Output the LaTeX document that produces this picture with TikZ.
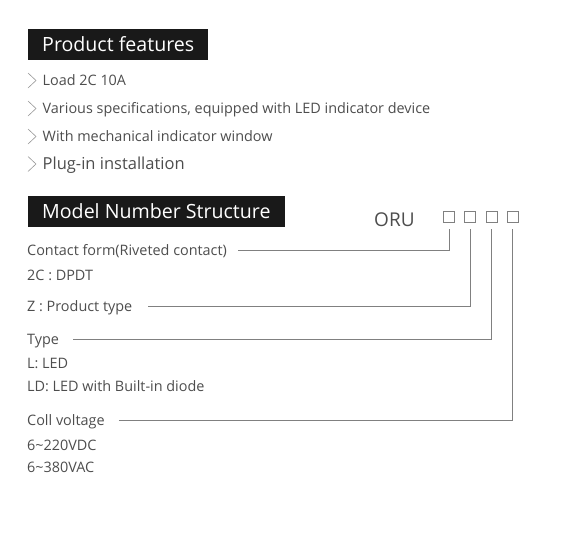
\documentclass[tikz,border=0pt]{standalone}
\usepackage{fontspec}
\setmainfont{Open Sans}
\usetikzlibrary{calc}
\definecolor{ink}{HTML}{4D4D4D}
\definecolor{rulegray}{HTML}{808080}
\tikzset{every node/.style={anchor=west,inner sep=0pt,text=ink,font=\fontsize{14.4}{17}\selectfont,text height=10.3pt,text depth=0pt}}
\tikzset{big/.style={font=\fontsize{16.5}{19}\selectfont,text height=11.7pt}}
\tikzset{head/.style={fill=black!90,text=white,font=\fontsize{19.6}{24}\selectfont,text height=14.2pt,inner xsep=14pt,minimum height=31pt}}
\tikzset{box/.style={draw=rulegray,line width=0.7pt,minimum size=11pt,anchor=center}}
\tikzset{chev/.style={draw=rulegray!80,line width=0.6pt}}
\tikzset{lead/.style={draw=rulegray,line width=0.8pt}}

\begin{document}
\begin{tikzpicture}[x=1pt,y=-1pt]
  \useasboundingbox (0,0) rectangle (585,546);
  % features
  \node[head] (H1) at (28,44.5) {Product features};
  \node (F1) at (42.5,80.5) {Load 2C 10A};
  \node (F2) at (42.5,108.5) {Various specifications, equipped with LED indicator device};
  \node (F3) at (42.5,136.5) {With mechanical indicator window};
  \node[big] (F4) at (42.5,164) {Plug-in installation};
  \foreach \f in {F1,F2,F3,F4}
    \draw[chev] ($(\f.west)+(-14.5,-7.5)$) -- ++(8,7.5) -- ++(-8,7.5);
  % model number
  \node[head] (H2) at (28,211) {Model Number Structure};
  \node[font=\fontsize{19}{23}\selectfont,text height=13.5pt] (ORU) at (374,219.5) {ORU};
  \node[box] (S1) at (449,216.5) {};
  \node[box] (S2) at (470,216.5) {};
  \node[box] (S3) at (491.5,216.5) {};
  \node[box] (S4) at (512.5,216.5) {};
  \node (C1) at (27,250) {Contact form(Riveted contact)};
  \node (C2) at (27,275) {2C : DPDT};
  \node (Z1) at (27,306.2) {Z : Product type};
  \node (T1) at (27,339.7) {Type};
  \node (T2) at (27,363) {L: LED};
  \node (T3) at (27,386.7) {LD: LED with Built-in diode};
  \node (V1) at (27,420.3) {Coll voltage};
  \node (V2) at (27,445) {6\textasciitilde220VDC};
  \node (V3) at (27,467) {6\textasciitilde380VAC};
  \foreach \a/\b/\g in {C1/S1/11,Z1/S2/16,T1/S3/14,V1/S4/14}
    \draw[lead,shorten <=\g pt,shorten >=7pt] (\a.east) -| (\b.south);
\end{tikzpicture}
\end{document}
